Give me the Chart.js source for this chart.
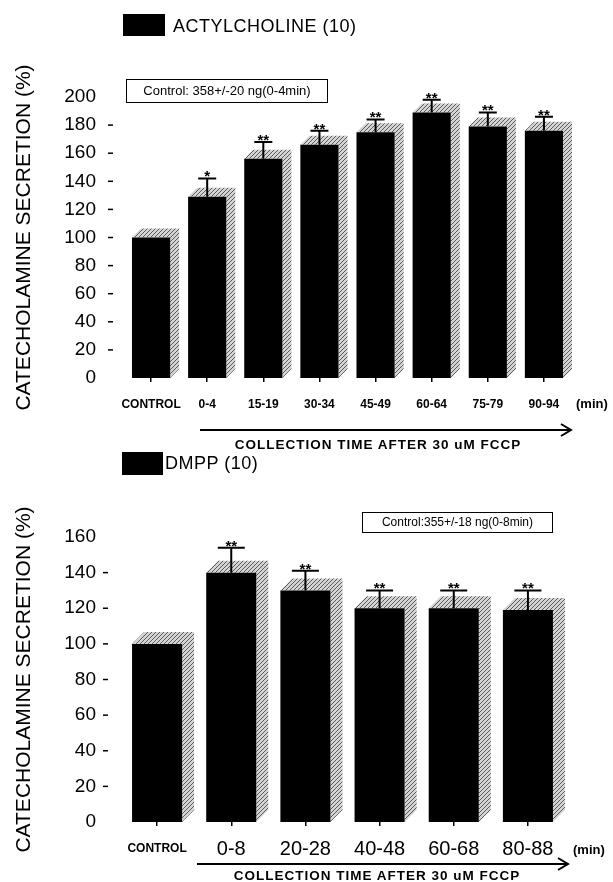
<!DOCTYPE html>
<html lang="en">
<head>
<meta charset="UTF-8">
<title>Catecholamine secretion after FCCP</title>
<script src="https://cdn.jsdelivr.net/npm/chart.js@4"></script>
<style>
  body { margin: 0; background: #fff; color: #000; font-family: "Liberation Sans", Arial, sans-serif; }
  #page { position: relative; width: 613px; height: 882px; overflow: hidden; }
  canvas { position: absolute; left: 0; }
  .abs { position: absolute; white-space: nowrap; }
  .legend { font-size: 18px; letter-spacing: 0.5px; line-height: 22px; }
  .swatch { position: absolute; background: #000; }
  .ctrl { border: 1px solid #000; text-align: center; box-sizing: border-box; }
  .min { font-size: 13px; font-weight: bold; line-height: 16px; }
  .caption { font-size: 13.5px; font-weight: bold; letter-spacing: 1px; line-height: 16px; transform: translateX(-50%); }
  svg { position: absolute; left: 0; top: 0; }
</style>
</head>
<body>
<div id="page">
  <canvas id="topChart" width="613" height="420" style="top:0"></canvas>
  <canvas id="botChart" width="613" height="442" style="top:440px"></canvas>

  <!-- legends -->
  <div class="swatch" style="left:123px; top:14px; width:42px; height:22px"></div>
  <div class="abs legend" style="left:173px; top:15px">ACTYLCHOLINE (10)</div>
  <div class="swatch" style="left:122px; top:452px; width:41px; height:23px"></div>
  <div class="abs legend" style="left:165px; top:452px">DMPP (10)</div>

  <!-- control boxes -->
  <div class="abs ctrl" style="left:126px; top:79px; width:202px; height:24px; font-size:13px; line-height:22px">Control: 358+/-20 ng(0-4min)</div>
  <div class="abs ctrl" style="left:362px; top:512px; width:191px; height:21px; font-size:12px; line-height:19px">Control:355+/-18 ng(0-8min)</div>

  <!-- units and captions -->
  <div class="abs min" style="left:576px; top:396px">(min)</div>
  <div class="abs min" style="left:573px; top:842px">(min)</div>
  <div class="abs caption" style="left:378px; top:437px">COLLECTION TIME AFTER 30 uM FCCP</div>
  <div class="abs caption" style="left:377px; top:868px">COLLECTION TIME AFTER 30 uM FCCP</div>

  <svg width="613" height="882">
    <g stroke="#000" stroke-width="2" fill="none">
      <line x1="200" y1="430" x2="571" y2="430"/>
      <polyline points="561,424 571,430 561,436"/>
      <line x1="197" y1="864" x2="568" y2="864"/>
      <polyline points="558,858 568,864 558,870"/>
    </g>
  </svg>
</div>

<script>
// acetylcholine panel
const topLabels = ['CONTROL', '0-4', '15-19', '30-34', '45-49', '60-64', '75-79', '90-94'];
const topValues = [100, 129, 156, 166, 175, 189, 179, 176];
const topErrors = [0, 13, 12, 10, 9, 9, 10, 10];
const topStars = ['', '*', '**', '**', '**', '**', '**', '**'];

// DMPP panel
const botLabels = ['CONTROL', '0-8', '20-28', '40-48', '60-68', '80-88'];
const botValues = [100, 140, 130, 120, 120, 119];
const botErrors = [0, 14, 11, 10, 10, 11];
const botStars = ['', '**', '**', '**', '**', '**'];

const FAMILY = '"Liberation Sans", Arial, sans-serif';

// grey hatch used for the 3d side of the bars
const hatch = (() => {
  const c = document.createElement('canvas');
  c.width = 4; c.height = 4;
  const g = c.getContext('2d');
  g.fillStyle = '#d4d4d4';
  g.fillRect(0, 0, 4, 4);
  g.strokeStyle = '#5a5a5a';
  g.lineWidth = 1;
  g.beginPath(); g.moveTo(0, 4); g.lineTo(4, 0); g.stroke();
  return c;
})();

// draws the shaded depth, error bars, stars and the little y tick dashes
const barDecor = {
  id: 'barDecor',
  beforeDatasetsDraw(chart, args, opts) {
    const ctx = chart.ctx;
    const d = opts.depth;
    ctx.save();
    ctx.fillStyle = ctx.createPattern(hatch, 'repeat');
    chart.getDatasetMeta(0).data.forEach(bar => {
      const {x, y, base, width} = bar.getProps(['x', 'y', 'base', 'width'], true);
      const l = x - width / 2, r = x + width / 2;
      ctx.beginPath();
      ctx.moveTo(l, y);
      ctx.lineTo(l + d, y - d);
      ctx.lineTo(r + d, y - d);
      ctx.lineTo(r + d, base - d);
      ctx.lineTo(r, base);
      ctx.lineTo(r, y);
      ctx.closePath();
      ctx.fill();
    });
    ctx.restore();
  },
  afterDatasetsDraw(chart, args, opts) {
    const ctx = chart.ctx;
    const yScale = chart.scales.y;
    const vals = chart.data.datasets[0].data;
    ctx.save();
    ctx.strokeStyle = '#000';
    ctx.fillStyle = '#000';
    chart.getDatasetMeta(0).data.forEach((bar, i) => {
      const err = opts.errors[i];
      if (!err) return;
      const top = yScale.getPixelForValue(vals[i] + err);
      ctx.lineWidth = 2;
      ctx.beginPath();
      ctx.moveTo(bar.x, bar.y);
      ctx.lineTo(bar.x, top);
      ctx.moveTo(bar.x - opts.cap / 2, top);
      ctx.lineTo(bar.x + opts.cap / 2, top);
      ctx.stroke();
      ctx.font = 'bold 15px ' + FAMILY;
      ctx.textAlign = 'center';
      ctx.textBaseline = 'alphabetic';
      ctx.fillText(opts.stars[i], bar.x, top + 3);
    });
    const ticks = yScale.ticks;
    ctx.lineWidth = 1.5;
    ticks.forEach((t, i) => {
      if (i === 0 || i === ticks.length - 1) return;
      const py = yScale.getPixelForValue(t.value);
      ctx.beginPath();
      ctx.moveTo(opts.dashX, py);
      ctx.lineTo(opts.dashX + 5, py);
      ctx.stroke();
    });
    ctx.restore();
  }
};

function makeChart(id, labels, values, errors, stars, cfg) {
  return new Chart(document.getElementById(id), {
    type: 'bar',
    data: {
      labels: labels,
      datasets: [{
        data: values,
        backgroundColor: '#000',
        borderWidth: 0,
        barPercentage: cfg.barPct,
        categoryPercentage: 1
      }]
    },
    options: {
      responsive: false,
      animation: false,
      devicePixelRatio: 1,
      layout: { padding: { top: cfg.padTop, right: cfg.padRight, left: 0, bottom: 0 } },
      plugins: {
        legend: { display: false },
        tooltip: { enabled: false },
        barDecor: { depth: cfg.depth, errors: errors, stars: stars, cap: cfg.cap, dashX: cfg.dashX }
      },
      scales: {
        x: {
          grid: { display: true, drawOnChartArea: false, drawTicks: true, tickLength: 4, offset: false, color: '#000', lineWidth: 1.5 },
          border: { display: false },
          ticks: { color: '#000', padding: cfg.xPad, maxRotation: 0, autoSkip: false, font: cfg.xFont },
          afterFit: s => { s.height = cfg.xHeight; }
        },
        y: {
          min: 0,
          max: cfg.yMax,
          grid: { display: false },
          border: { display: false },
          ticks: { stepSize: 20, color: '#000', padding: cfg.yPad, font: { size: 19, family: FAMILY } },
          title: {
            display: true,
            text: 'CATECHOLAMINE SECRETION (%)',
            color: '#000',
            font: { size: 21, family: FAMILY },
            padding: { top: 12, bottom: 0 }
          },
          afterFit: s => { s.width = cfg.yWidth; }
        }
      }
    },
    plugins: [barDecor]
  });
}

makeChart('topChart', topLabels, topValues, topErrors, topStars, {
  barPct: 0.68, padTop: 97, padRight: 41, yWidth: 123, xHeight: 42, yMax: 200,
  yPad: 19, xPad: 15, depth: 9, cap: 18, dashX: 108,
  xFont: { size: 12, weight: 'bold', family: FAMILY }
});

makeChart('botChart', botLabels, botValues, botErrors, botStars, {
  barPct: 0.675, padTop: 97, padRight: 48, yWidth: 120, xHeight: 60, yMax: 160,
  yPad: 16, xPad: 11, depth: 12, cap: 27, dashX: 103,
  xFont: c => c.index === 0
    ? { size: 12, weight: 'bold', lineHeight: 2, family: FAMILY }
    : { size: 20, family: FAMILY }
});
</script>
</body>
</html>
